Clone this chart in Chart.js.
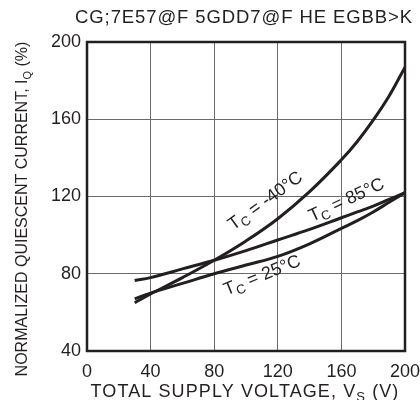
<!DOCTYPE html>
<html>
<head>
<meta charset="utf-8">
<script src="https://cdn.jsdelivr.net/npm/chart.js@4.4.0/dist/chart.umd.min.js"></script>
<style>
  html, body { margin: 0; padding: 0; background: #fff; }
  canvas { display: block; }
</style>
</head>
<body>
<canvas id="chart" width="420" height="400"></canvas>
<script>
// supply voltage (V) where the curves were read
const vs = [30, 40, 60, 80, 100, 120, 140, 160, 170, 180, 190, 200];
// normalized quiescent current (%) per case temperature
const iqMinus40 = [65, 69.5, 78, 87, 97, 108.5, 122.5, 139, 148.5, 159.5, 172, 187];
const iq25 = [67, 70, 75, 80, 84.5, 89, 95.5, 103.5, 107.5, 112, 117, 122];
const iq85 = [76.5, 78, 82.5, 87, 92, 97.5, 103, 109, 112, 115, 118.5, 122];

const xTicks = [0, 40, 80, 120, 160, 200];
const yTicks = [40, 80, 120, 160, 200];

const titleText = 'CG;7E57@F 5GDD7@F HE EGBB>K';
const FONT = '"Liberation Sans", Arial, sans-serif';
const INK = '#231f20';

// curve labels, placed in data units
const curveLabels = [
    { x: 112, y: 118, angle: -36, text: ' = -40°C' },
    { x: 163, y: 118.5, angle: -25, text: ' = 85°C' },
    { x: 110, y: 79.5, angle: -22, text: ' = 25°C' }
];

const toPoints = (ys) => vs.map((x, i) => ({ x, y: ys[i] }));

// draw text made of normal / subscript pieces, centred on (cx, cy)
const drawParts = (ctx, parts, size, cx, cy, spacing = 0) => {
    const subSize = Math.round(size * 0.7);
    ctx.letterSpacing = `${spacing}px`;
    let total = 0;
    parts.forEach(p => {
        ctx.font = `${p.sub ? subSize : size}px ${FONT}`;
        p.w = ctx.measureText(p.t).width;
        total += p.w;
    });
    let x = cx - total / 2;
    ctx.textBaseline = 'alphabetic';
    ctx.textAlign = 'left';
    parts.forEach(p => {
        ctx.font = `${p.sub ? subSize : size}px ${FONT}`;
        ctx.fillText(p.t, x, cy + (p.sub ? size * 0.22 : 0));
        x += p.w;
    });
    ctx.letterSpacing = '0px';
};

const decorPlugin = {
    id: 'decor',
    afterDraw(chart) {
        const { ctx, chartArea: a, scales } = chart;
        ctx.save();
        ctx.fillStyle = INK;

        // frame
        ctx.strokeStyle = INK;
        ctx.lineWidth = 2.5;
        ctx.strokeRect(a.left, a.top, a.right - a.left, a.bottom - a.top);

        // title
        ctx.font = `18.5px ${FONT}`;
        ctx.letterSpacing = '0.9px';
        ctx.textAlign = 'center';
        ctx.textBaseline = 'alphabetic';
        ctx.fillText(titleText, 244, 23);
        ctx.letterSpacing = '0px';

        // x axis title
        drawParts(ctx, [
            { t: 'TOTAL SUPPLY VOLTAGE, V' },
            { t: 'S', sub: true },
            { t: ' (V)' }
        ], 18, 245, 397, 1.1);

        // y axis title
        ctx.save();
        ctx.translate(27, 209);
        ctx.rotate(-Math.PI / 2);
        drawParts(ctx, [
            { t: 'NORMALIZED QUIESCENT CURRENT, I' },
            { t: 'Q', sub: true },
            { t: ' (%)' }
        ], 16, 0, 0);
        ctx.restore();

        // curve labels
        curveLabels.forEach(l => {
            ctx.save();
            ctx.translate(scales.x.getPixelForValue(l.x), scales.y.getPixelForValue(l.y));
            ctx.rotate(l.angle * Math.PI / 180);
            drawParts(ctx, [{ t: 'T' }, { t: 'C', sub: true }, { t: l.text }], 18, 0, 6);
            ctx.restore();
        });
        ctx.restore();
    }
};

const lineStyle = {
    borderColor: INK,
    borderWidth: 3,
    pointRadius: 0,
    fill: false,
    tension: 0.4
};

new Chart(document.getElementById('chart'), {
    type: 'line',
    data: {
        datasets: [
            { label: 'TC = -40°C', data: toPoints(iqMinus40), ...lineStyle },
            { label: 'TC = 25°C', data: toPoints(iq25), ...lineStyle },
            { label: 'TC = 85°C', data: toPoints(iq85), ...lineStyle }
        ]
    },
    options: {
        responsive: false,
        animation: false,
        devicePixelRatio: 1,
        layout: { padding: { top: 42, right: 15, left: 0, bottom: 0 } },
        plugins: {
            legend: { display: false },
            tooltip: { enabled: false }
        },
        scales: {
            x: {
                type: 'linear',
                min: 0,
                max: 200,
                afterBuildTicks: (s) => { s.ticks = xTicks.map(v => ({ value: v })); },
                afterFit: (s) => { s.height = 49; s.paddingLeft = 0; s.paddingRight = 0; },
                grid: { color: '#6b6b6b', lineWidth: 1, drawTicks: false },
                border: { display: false },
                ticks: {
                    color: INK,
                    padding: 10,
                    maxRotation: 0,
                    font: { family: FONT, size: 18 }
                }
            },
            y: {
                min: 40,
                max: 200,
                afterBuildTicks: (s) => { s.ticks = yTicks.map(v => ({ value: v })); },
                afterFit: (s) => { s.width = 87; s.paddingTop = 0; s.paddingBottom = 0; },
                grid: { color: '#6b6b6b', lineWidth: 1, drawTicks: false },
                border: { display: false },
                ticks: {
                    color: INK,
                    padding: 6,
                    font: { family: FONT, size: 18 }
                }
            }
        }
    },
    plugins: [decorPlugin]
});
</script>
</body>
</html>
